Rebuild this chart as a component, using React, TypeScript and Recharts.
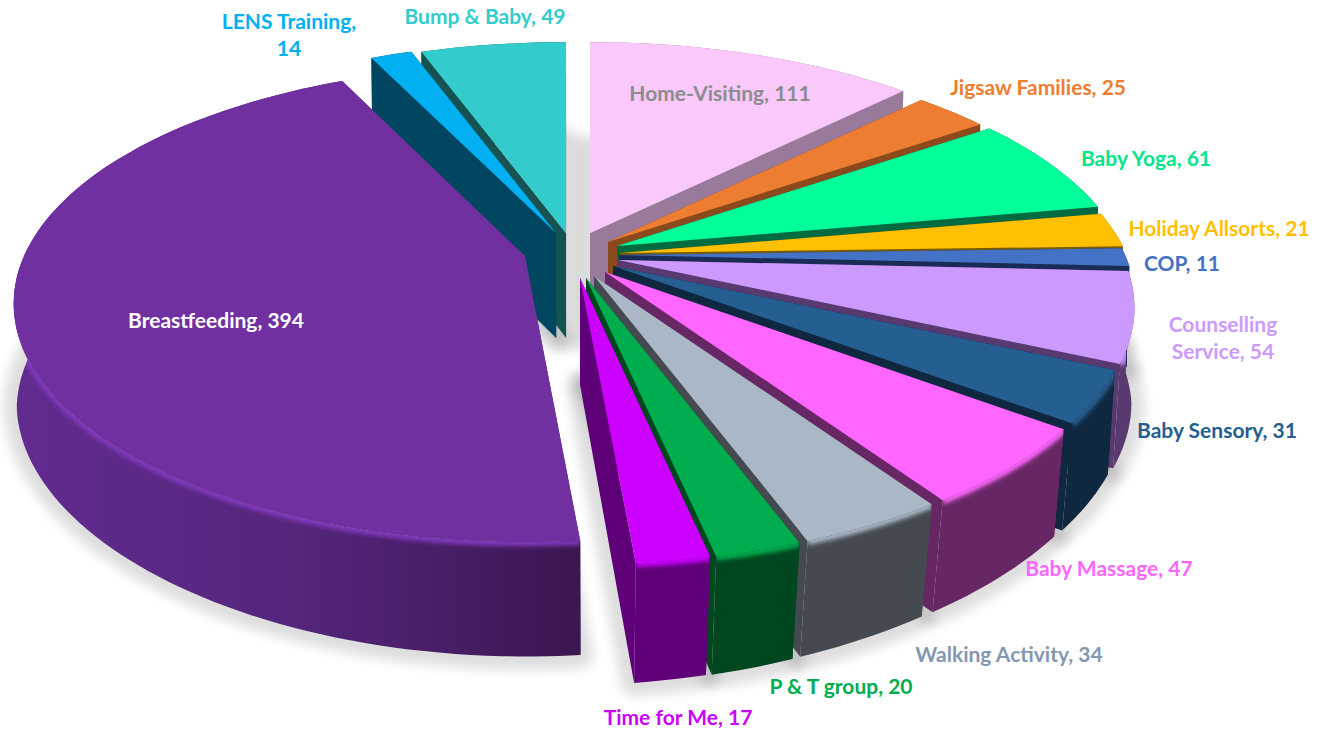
import React from "react"
import { PieChart, Pie } from "recharts"

const names = [
  "Home-Visiting", "Jigsaw Families", "Baby Yoga", "Holiday Allsorts", "COP",
  "Counselling Service", "Baby Sensory", "Baby Massage", "Walking Activity",
  "P & T group", "Time for Me", "Breastfeeding", "LENS Training", "Bump & Baby",
]
const values = [111, 25, 61, 21, 11, 54, 31, 47, 34, 20, 17, 394, 14, 49]
const topColors = [
  "#FAC8FB", "#ED7D31", "#00FF99", "#FFC000", "#4472C4", "#CC99FF", "#255E91",
  "#FF66FF", "#A9B7C6", "#00AD4E", "#CC00FF", "#7030A0", "#00B0F0", "#33CCCC",
]
const wallColors = [
  "#9A7A9B", "#8A4A1C", "#006B40", "#7A5C00", "#1A2C55", "#583A70", "#0F2840",
  "#662764", "#454A50", "#00471F", "#5F0078", "url(#breastWall)", "#004660", "#165252",
]
const labelColors = [
  "#8C8C8C", "#ED7D31", "#00E68A", "#FFC000", "#4472C4", "#CC99FF", "#255E91",
  "#FF66FF", "#8497B0", "#00AD4E", "#CC00FF", "#FFFFFF", "#00B0F0", "#33CCCC",
]
// where each exploded wedge has its tip on screen
const tips = [
  [590, 233], [608, 242], [617, 246], [620, 253], [619, 255], [618, 260], [613, 266],
  [605, 272], [594, 276], [586, 278], [580, 278], [525, 256], [556, 233], [566, 233],
]
// label lines and centre/baseline
const labelLines = [
  ["Home-Visiting, 111"], ["Jigsaw Families, 25"], ["Baby Yoga, 61"], ["Holiday Allsorts, 21"],
  ["COP, 11"], ["Counselling", "Service, 54"], ["Baby Sensory, 31"], ["Baby Massage, 47"],
  ["Walking Activity, 34"], ["P & T group, 20"], ["Time for Me, 17"], ["Breastfeeding, 394"],
  ["LENS Training,", "14"], ["Bump & Baby, 49"],
]
const labelSpots = [
  [720, 101], [1038, 95], [1146, 166], [1219, 236], [1182, 271], [1223, 332], [1217, 438],
  [1109, 576], [1009, 662], [841, 694], [678, 725], [216, 328], [289, 29], [485, 24],
]

const data = names.map((name, i) => ({ name, value: values[i] }))

const WIDE = 506
const FLAT = 0.4526
const PERSP = 0.2
const BREAST = 11
const BUMP = 13

function rimPoint(i: number, a: number) {
  const rad = (a * Math.PI) / 180
  const s = 1 / (1 + PERSP * Math.cos(rad))
  const xScale = i === BREAST ? 0.99 : 1
  return [
    tips[i][0] + WIDE * xScale * Math.sin(rad) * s,
    tips[i][1] - WIDE * FLAT * Math.cos(rad) * s,
  ]
}

// same point on the underside of the pie
function drop(p: number[]) {
  const shrink = 0.995 - (0.03 * Math.max(0, p[1] - 300)) / 250
  const base = p[0] < 590 ? 105 : 111
  const d = base + (p[1] - 233) * 0.03 - 0.02 * Math.max(0, p[0] - 590)
  return [590 + (p[0] - 590) * shrink, p[1] + d]
}

function toPath(pts: number[][], close = true) {
  return pts.map((p, k) => (k ? "L" : "M") + p[0].toFixed(1) + " " + p[1].toFixed(1)).join("") + (close ? "Z" : "")
}

function rim(i: number, from: number, to: number) {
  const n = Math.max(2, Math.ceil((to - from) / 1.5))
  const pts: number[][] = []
  for (let k = 0; k <= n; k++) pts.push(rimPoint(i, from + ((to - from) * k) / n))
  return pts
}

function wedgeAngles(props: any) {
  return [90 - props.startAngle, 90 - props.endAngle]
}

function ShadowShape(props: any) {
  const i = props.index
  const [from, to] = wedgeAngles(props)
  const pts = [tips[i], ...rim(i, from, to)].map(drop)
  return <path d={toPath(pts)} fill="#000" stroke="#000" strokeWidth={26} strokeLinejoin="round" opacity={0.13} filter="url(#soft)" />
}

function drawWall(i: number, from: number, to: number) {
  const tip = tips[i]
  const edge = rim(i, from, to)
  const bottomTip = drop(tip)
  const wall = wallColors[i]
  const first = edge[0]
  const last = edge[edge.length - 1]
  const band = toPath([...edge, ...edge.map(drop).reverse()])
  const showBevel = to > 100 && from < 272
  return (
    <g>
      <path d={toPath([tip, first, drop(first), bottomTip])} fill={wall} />
      <path d={toPath([tip, last, drop(last), bottomTip])} fill={wall} />
      <path d={band} fill={wall} />
      {showBevel ? (
        <g clipPath={`url(#band-${i})`}>
          <clipPath id={`band-${i}`}>
            <path d={band} />
          </clipPath>
          <path
            d={toPath(rim(i, Math.max(from, 100), Math.min(to, 272)), false)}
            fill="none"
            stroke={i === BREAST ? "#8038BC" : topColors[i]}
            strokeWidth={8}
            filter="url(#bevel)"
          />
        </g>
      ) : null}
    </g>
  )
}

// Bump & Baby's wall sits behind the LENS wall, so it goes down first
function BackWallShape(props: any) {
  if (props.index !== BUMP) return <g />
  const [from, to] = wedgeAngles(props)
  return drawWall(BUMP, from, to)
}

function WallShape(props: any) {
  if (props.index === BUMP) return <g />
  const [from, to] = wedgeAngles(props)
  return drawWall(props.index, from, to)
}

function TopShape(props: any) {
  const i = props.index
  const [from, to] = wedgeAngles(props)
  return <path d={toPath([tips[i], ...rim(i, from, to)])} fill={topColors[i]} />
}

function WedgeLabel(props: any) {
  const i = props.index
  const [x, y] = labelSpots[i]
  return (
    <text
      x={x}
      y={y}
      textAnchor="middle"
      fill={labelColors[i]}
      fontFamily="Lato, sans-serif"
      fontWeight={700}
      fontSize={21}
    >
      {labelLines[i].map((line, k) => (
        <tspan key={line} x={x} dy={k ? 27 : 0}>{line}</tspan>
      ))}
    </text>
  )
}

export default function App() {
  const shared = {
    data,
    dataKey: "value",
    nameKey: "name",
    cx: 590,
    cy: 250,
    outerRadius: WIDE,
    startAngle: 90,
    endAngle: -270,
    stroke: "none",
    isAnimationActive: false,
    labelLine: false,
  }
  return (
    <div style={{ position: "absolute", left: 0, top: 0, width: 1326, height: 731, overflow: "hidden", background: "#fff" }}>
      <PieChart width={1326} height={731} margin={{ top: 0, right: 0, bottom: 0, left: 0 }}>
        <defs>
          <linearGradient id="breastWall" x1="0" y1="0" x2="1" y2="0">
            <stop offset="0" stopColor="#622B90" />
            <stop offset="0.5" stopColor="#54267C" />
            <stop offset="1" stopColor="#3C1650" />
          </linearGradient>
          <filter id="soft" filterUnits="userSpaceOnUse" x="0" y="0" width="1326" height="731">
            <feGaussianBlur stdDeviation="6" />
          </filter>
          <filter id="bevel" filterUnits="userSpaceOnUse" x="0" y="0" width="1326" height="731">
            <feGaussianBlur stdDeviation="2" />
          </filter>
        </defs>
        <Pie {...shared} shape={ShadowShape} label={false} />
        <Pie {...shared} shape={BackWallShape} label={false} />
        <Pie {...shared} shape={WallShape} label={false} />
        <Pie {...shared} shape={TopShape} label={WedgeLabel} />
      </PieChart>
    </div>
  )
}
